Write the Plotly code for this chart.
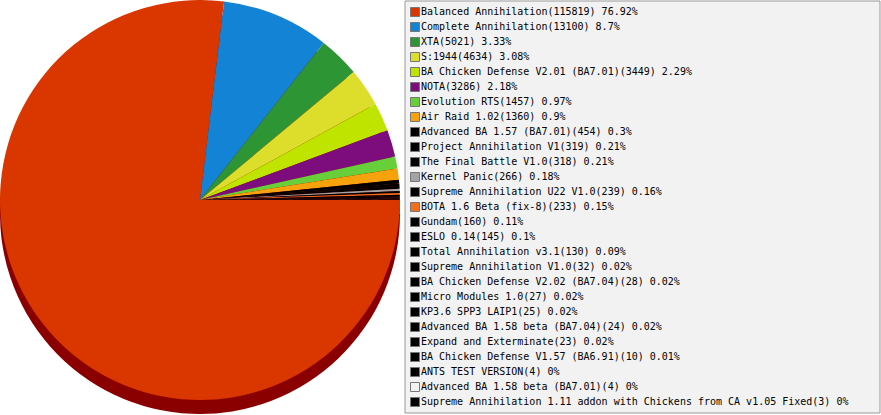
import plotly.graph_objects as go

mods = [
    "Balanced Annihilation", "Complete Annihilation", "XTA", "S:1944",
    "BA Chicken Defense V2.01 (BA7.01)", "NOTA", "Evolution RTS", "Air Raid 1.02",
    "Advanced BA 1.57 (BA7.01)", "Project Annihilation V1", "The Final Battle V1.0",
    "Kernel Panic", "Supreme Annihilation U22 V1.0", "BOTA 1.6 Beta (fix-8)",
    "Gundam", "ESLO 0.14", "Total Annihilation v3.1", "Supreme Annihilation V1.0",
    "BA Chicken Defense V2.02 (BA7.04)", "Micro Modules 1.0", "KP3.6 SPP3 LAIP1",
    "Advanced BA 1.58 beta (BA7.04)", "Expand and Exterminate",
    "BA Chicken Defense V1.57 (BA6.91)", "ANTS TEST VERSION",
    "Advanced BA 1.58 beta (BA7.01)",
    "Supreme Annihilation 1.11 addon with Chickens from CA v1.05 Fixed",
]
games = [115819, 13100, 5021, 4634, 3449, 3286, 1457, 1360, 454, 319, 318, 266,
         239, 233, 160, 145, 130, 32, 28, 27, 25, 24, 23, 10, 4, 4, 3]
colors = ["#DA3600", "#1384D5", "#2E9534", "#DDDD2B", "#BEE400", "#7D0C7D",
          "#66CF3A", "#F6A20C", "#000000", "#000000", "#000000", "#A3A3A3",
          "#000000", "#F46E1B", "#000000", "#000000", "#000000", "#000000",
          "#000000", "#000000", "#000000", "#000000", "#000000", "#000000",
          "#000000", "#F2F2F2", "#000000"]

W, H = 881, 415
total = sum(games)
labels = [f"{m}({g}) {round(g / total * 100, 2):g}%" for m, g in zip(mods, games)]
rows = list(range(len(mods)))

fig = go.Figure()

# side of the "3D" pie: same pie, dark, shifted down
depth = 14
fig.add_trace(go.Pie(
    values=games, sort=False, direction="clockwise", rotation=90,
    marker=dict(colors=["#8A0000"] * len(games), line=dict(width=0)),
    textinfo="none", hoverinfo="skip", showlegend=False,
    domain=dict(x=[0, 400 / W], y=[(H - 400 - depth) / H, (H - depth) / H]),
))
fig.add_trace(go.Pie(
    values=games, labels=mods, sort=False, direction="clockwise", rotation=90,
    marker=dict(colors=colors, line=dict(width=0)),
    textinfo="none", showlegend=False,
    domain=dict(x=[0, 400 / W], y=[(H - 400) / H, 1]),
))

# legend drawn as swatches + text on a pixel-scaled helper axis
fig.add_trace(go.Scatter(
    x=[415] * len(rows), y=rows, mode="markers", xaxis="x", yaxis="y",
    marker=dict(symbol="square", size=9, color=colors,
                line=dict(width=1, color="#777777")),
    hoverinfo="skip", showlegend=False,
))
fig.add_trace(go.Scatter(
    x=[421] * len(rows), y=rows, mode="text", text=labels,
    textposition="middle right", xaxis="x", yaxis="y",
    textfont=dict(family="DejaVu Sans Mono", size=10, color="#000000"),
    hoverinfo="skip", showlegend=False,
))

fig.update_layout(
    width=W, height=H,
    margin=dict(l=0, r=0, t=0, b=0),
    paper_bgcolor="white", plot_bgcolor="rgba(0,0,0,0)",
    xaxis=dict(range=[0, W], visible=False, fixedrange=True),
    yaxis=dict(range=[(H - 12) / 15, -12 / 15], visible=False, fixedrange=True),
    shapes=[dict(type="rect", xref="paper", yref="paper",
                 x0=405 / W, x1=880 / W, y0=(H - 413) / H, y1=(H - 1) / H,
                 fillcolor="#F2F2F2", line=dict(color="#999999", width=1),
                 layer="below")],
)

# page body has a default 8px margin; drop it so the figure fills the window
fig.write_html("out.html", config={"displayModeBar": False},
               post_script="document.body.style.margin='0';")
